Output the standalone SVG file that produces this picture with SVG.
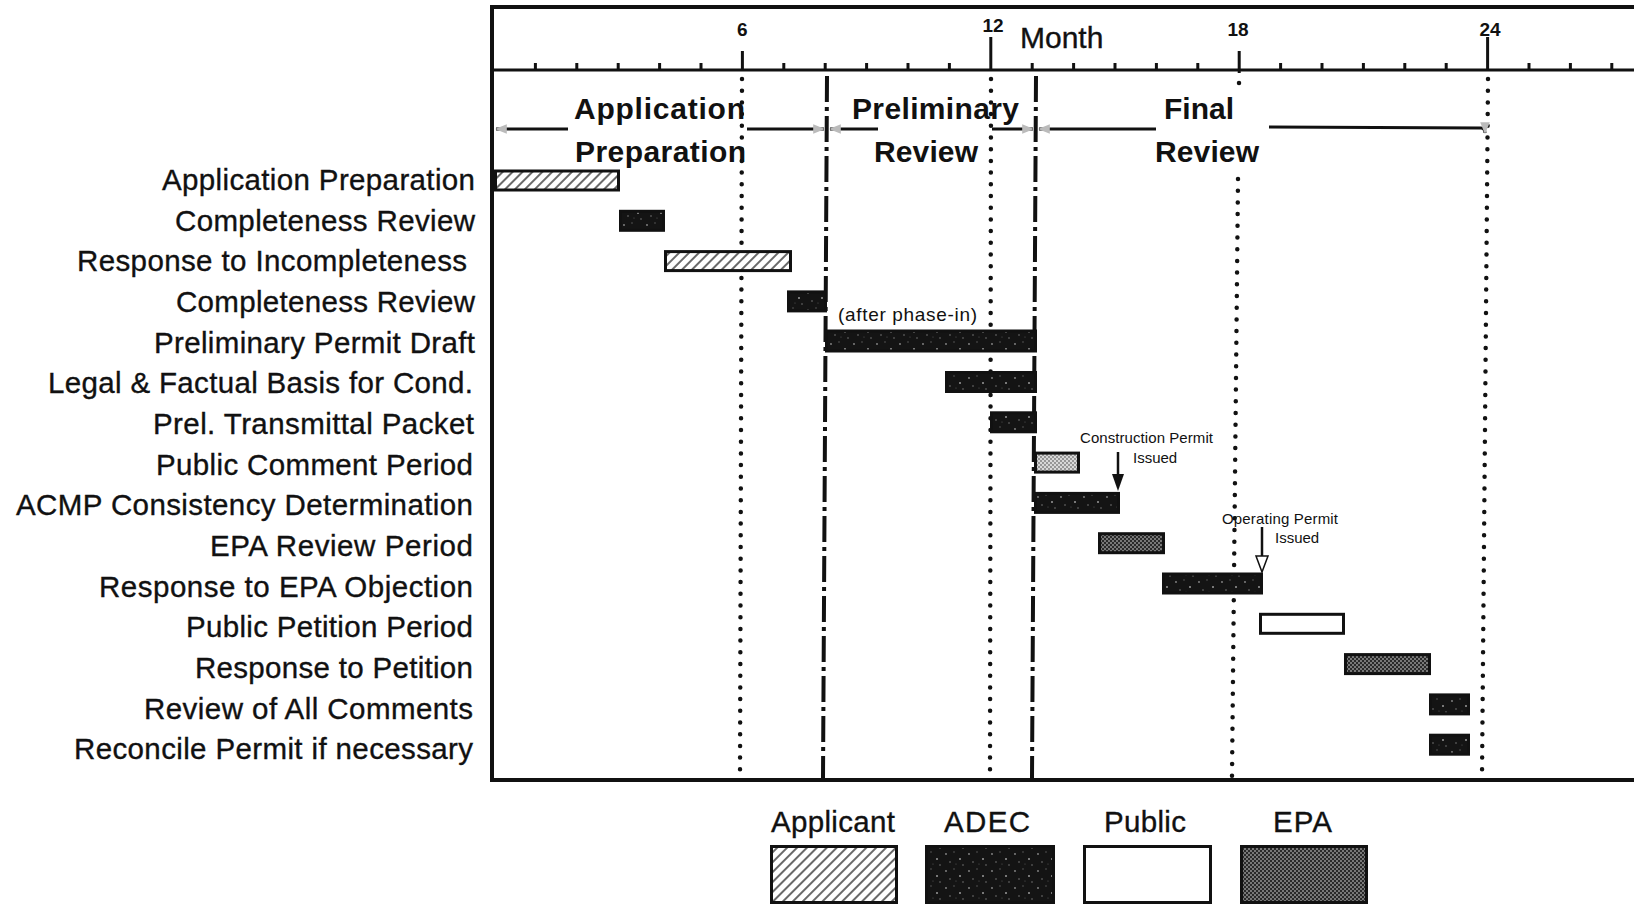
<svg xmlns="http://www.w3.org/2000/svg" width="1634" height="906" viewBox="0 0 1634 906">
<defs>
<style>
.lbl{font-family:"Liberation Sans",Arial,Helvetica,sans-serif;font-size:29.5px;fill:#111;stroke:#111;stroke-width:0.35}
.hdr{font-family:"Liberation Sans",Arial,Helvetica,sans-serif;font-size:30px;font-weight:bold;fill:#111}
.num{font-family:"Liberation Sans",Arial,Helvetica,sans-serif;font-size:19px;font-weight:bold;fill:#111}
.note{font-family:"Liberation Sans",Arial,Helvetica,sans-serif;font-size:15px;fill:#111}
.frame{stroke:#111;fill:none}
.tick{stroke:#111;stroke-width:3}
.dot{stroke:#111;stroke-width:4.5;stroke-linecap:round;stroke-dasharray:0 11.7;fill:none}
.dashdot{stroke:#111;stroke-width:4;stroke-dasharray:26 5 4 5;fill:none}
.bar{stroke:#111;stroke-width:3}
.arr{stroke:#111;stroke-width:3;fill:none}
</style>
<pattern id="hatch" patternUnits="userSpaceOnUse" width="7" height="7" patternTransform="rotate(45)">
<rect width="7" height="7" fill="#fff"/>
<line x1="1" y1="0" x2="1" y2="7" stroke="#444" stroke-width="1.6"/>
</pattern>
<pattern id="adec" patternUnits="userSpaceOnUse" width="23" height="17">
<rect width="23" height="17" fill="#141414"/>
<circle cx="3" cy="4" r="0.9" fill="#8a8a8a"/>
<circle cx="11" cy="2" r="0.7" fill="#666"/>
<circle cx="17" cy="9" r="1" fill="#999"/>
<circle cx="7" cy="12" r="0.8" fill="#777"/>
<circle cx="20" cy="15" r="0.7" fill="#888"/>
<circle cx="13" cy="14" r="0.6" fill="#555"/>
</pattern>
<pattern id="epa" patternUnits="userSpaceOnUse" width="4" height="4">
<rect width="4" height="4" fill="#2a2a2a"/>
<circle cx="1" cy="1" r="0.95" fill="#9a9a9a"/>
<circle cx="3" cy="3" r="0.95" fill="#9a9a9a"/>
</pattern>
<pattern id="epaLight" patternUnits="userSpaceOnUse" width="4" height="4">
<rect width="4" height="4" fill="#d8d8d8"/>
<circle cx="1" cy="1" r="0.9" fill="#777"/>
<circle cx="3" cy="3" r="0.9" fill="#777"/>
</pattern>
<marker id="ah" viewBox="0 0 10 10" refX="9" refY="5" markerWidth="4" markerHeight="4" orient="auto-start-reverse">
<path d="M0,1 L10,5 L0,9 z" fill="#bbb"/>
</marker>
</defs>
<rect width="1634" height="906" fill="#fff"/>

<g id="chart-frame">
<line class="frame" x1="490" y1="7" x2="1634" y2="7" stroke-width="4"/>
<line class="frame" x1="492" y1="70" x2="1634" y2="70" stroke-width="3"/>
<line class="frame" x1="492" y1="5" x2="492" y2="782" stroke-width="4"/>
<line class="frame" x1="490" y1="780" x2="1634" y2="780" stroke-width="4"/>
</g>

<g id="month-scale">
<g class="tick">
<line x1="535.4" y1="63" x2="535.4" y2="70"/>
<line x1="576.8" y1="63" x2="576.8" y2="70"/>
<line x1="618.2" y1="63" x2="618.2" y2="70"/>
<line x1="659.6" y1="63" x2="659.6" y2="70"/>
<line x1="701" y1="63" x2="701" y2="70"/>
<line x1="783.8" y1="63" x2="783.8" y2="70"/>
<line x1="825.2" y1="63" x2="825.2" y2="70"/>
<line x1="866.6" y1="63" x2="866.6" y2="70"/>
<line x1="908" y1="63" x2="908" y2="70"/>
<line x1="949.4" y1="63" x2="949.4" y2="70"/>
<line x1="1032.2" y1="63" x2="1032.2" y2="70"/>
<line x1="1073.6" y1="63" x2="1073.6" y2="70"/>
<line x1="1115" y1="63" x2="1115" y2="70"/>
<line x1="1156.4" y1="63" x2="1156.4" y2="70"/>
<line x1="1197.8" y1="63" x2="1197.8" y2="70"/>
<line x1="1280.6" y1="63" x2="1280.6" y2="70"/>
<line x1="1322" y1="63" x2="1322" y2="70"/>
<line x1="1363.4" y1="63" x2="1363.4" y2="70"/>
<line x1="1404.8" y1="63" x2="1404.8" y2="70"/>
<line x1="1446.2" y1="63" x2="1446.2" y2="70"/>
<line x1="1529" y1="63" x2="1529" y2="70"/>
<line x1="1570.4" y1="63" x2="1570.4" y2="70"/>
<line x1="1611.8" y1="63" x2="1611.8" y2="70"/>
<line x1="742.4" y1="51" x2="742.4" y2="70"/>
<line x1="990.8" y1="37" x2="990.8" y2="70"/>
<line x1="1239.2" y1="51" x2="1239.2" y2="73"/>
<line x1="1487.6" y1="37" x2="1487.6" y2="70"/>
</g>
<text class="num" x="742.4" y="36" text-anchor="middle">6</text>
<text class="num" x="993" y="32" text-anchor="middle">12</text>
<text class="num" x="1238" y="36" text-anchor="middle">18</text>
<text class="num" x="1490" y="36" text-anchor="middle">24</text>
<text class="lbl" x="1020" y="48" style="font-size:30px">Month</text>
</g>

<g id="dividers">
<line class="dot" x1="742" y1="79" x2="740" y2="776"/>
<line class="dot" x1="991" y1="79" x2="990" y2="776"/>
<line class="dot" x1="1239" y1="83" x2="1239" y2="84"/>
<line class="dot" x1="1238" y1="179" x2="1232" y2="776"/>
<line class="dot" x1="1488" y1="79" x2="1482" y2="776"/>
<line class="dashdot" x1="827" y1="76" x2="823" y2="778"/>
<line class="dashdot" x1="1036" y1="76" x2="1032" y2="778"/>
</g>

<g id="phase-application-preparation">
<text class="hdr" x="574" y="119" textLength="171" lengthAdjust="spacing">Application</text>
<text class="hdr" x="575" y="162" textLength="171" lengthAdjust="spacing">Preparation</text>
</g>
<g id="phase-preliminary-review">
<text class="hdr" x="852" y="119" textLength="167" lengthAdjust="spacing">Preliminary</text>
<text class="hdr" x="874" y="162" textLength="104" lengthAdjust="spacing">Review</text>
</g>
<g id="phase-final-review">
<text class="hdr" x="1164" y="119" textLength="70" lengthAdjust="spacing">Final</text>
<text class="hdr" x="1155" y="162" textLength="104" lengthAdjust="spacing">Review</text>
</g>

<g id="row-01">
<text class="lbl" x="162" y="190" textLength="313" lengthAdjust="spacing">Application Preparation</text>
<rect class="bar" x="495.5" y="171" width="123" height="19" fill="url(#hatch)"/>
</g>
<g id="row-02">
<text class="lbl" x="175" y="230.7" textLength="300" lengthAdjust="spacing">Completeness Review</text>
<rect class="bar" x="620.5" y="211.3" width="43" height="19" fill="url(#adec)"/>
</g>
<g id="row-03">
<text class="lbl" x="77" y="271.3" textLength="390" lengthAdjust="spacing">Response to Incompleteness</text>
<rect class="bar" x="665.5" y="251.6" width="125" height="19" fill="url(#hatch)"/>
</g>
<g id="row-04">
<text class="lbl" x="176" y="312" textLength="299" lengthAdjust="spacing">Completeness Review</text>
<rect class="bar" x="788.5" y="291.9" width="37" height="19" fill="url(#adec)"/>
</g>
<g id="row-05">
<text class="lbl" x="154" y="352.6" textLength="321" lengthAdjust="spacing">Preliminary Permit Draft</text>
<rect class="bar" x="826.5" y="331" width="209" height="20" fill="url(#adec)"/>
<text class="note" x="838" y="321" style="font-size:19px" textLength="139" lengthAdjust="spacing">(after phase-in)</text>
</g>
<g id="row-06">
<text class="lbl" x="48" y="393.3" textLength="425" lengthAdjust="spacing">Legal &amp; Factual Basis for Cond.</text>
<rect class="bar" x="946.5" y="372.5" width="89" height="19" fill="url(#adec)"/>
</g>
<g id="row-07">
<text class="lbl" x="153" y="433.9" textLength="321" lengthAdjust="spacing">Prel. Transmittal Packet</text>
<rect class="bar" x="991.5" y="412.8" width="44" height="19" fill="url(#adec)"/>
</g>
<g id="row-08">
<text class="lbl" x="156" y="474.6" textLength="317" lengthAdjust="spacing">Public Comment Period</text>
<rect class="bar" x="1035.5" y="453.1" width="43" height="19" fill="url(#epaLight)"/>
</g>
<g id="row-09">
<text class="lbl" x="16" y="515.2" textLength="457" lengthAdjust="spacing">ACMP Consistency Determination</text>
<rect class="bar" x="1035.5" y="493.4" width="83" height="19" fill="url(#adec)"/>
</g>
<g id="row-10">
<text class="lbl" x="210" y="555.9" textLength="263" lengthAdjust="spacing">EPA Review Period</text>
<rect class="bar" x="1099.5" y="533.7" width="64" height="19" fill="url(#epa)"/>
</g>
<g id="row-11">
<text class="lbl" x="99" y="596.5" textLength="374" lengthAdjust="spacing">Response to EPA Objection</text>
<rect class="bar" x="1163.5" y="574" width="98" height="19" fill="url(#adec)"/>
</g>
<g id="row-12">
<text class="lbl" x="186" y="637.2" textLength="287" lengthAdjust="spacing">Public Petition Period</text>
<rect class="bar" x="1260.5" y="614.3" width="83" height="19" fill="#fff"/>
</g>
<g id="row-13">
<text class="lbl" x="195" y="677.8" textLength="278" lengthAdjust="spacing">Response to Petition</text>
<rect class="bar" x="1345.5" y="654.6" width="84" height="19" fill="url(#epa)"/>
</g>
<g id="row-14">
<text class="lbl" x="144" y="718.5" textLength="329" lengthAdjust="spacing">Review of All Comments</text>
<rect class="bar" x="1430.5" y="694.9" width="38" height="19" fill="url(#adec)"/>
</g>
<g id="row-15">
<text class="lbl" x="74" y="759.1" textLength="399" lengthAdjust="spacing">Reconcile Permit if necessary</text>
<rect class="bar" x="1430.5" y="735.2" width="38" height="19" fill="url(#adec)"/>
</g>

<g id="construction-permit-note">
<text class="note" x="1080" y="443" textLength="133" lengthAdjust="spacing">Construction Permit</text>
<text class="note" x="1133" y="463">Issued</text>
</g>
<g id="operating-permit-note">
<text class="note" x="1222" y="524" textLength="116" lengthAdjust="spacing">Operating Permit</text>
<text class="note" x="1275" y="543">Issued</text>
</g>

<g id="connectors">
<line class="arr" x1="496" y1="129" x2="568" y2="129" marker-start="url(#ah)"/>
<line class="arr" x1="747" y1="129" x2="824" y2="129" marker-end="url(#ah)"/>
<line class="arr" x1="830" y1="129" x2="878" y2="129" marker-start="url(#ah)"/>
<line class="arr" x1="992" y1="129" x2="1033" y2="129" marker-end="url(#ah)"/>
<line class="arr" x1="1039" y1="129" x2="1156" y2="129" marker-start="url(#ah)"/>
<path class="arr" d="M1269,127 L1481,128 Q1485,128 1485,133" marker-end="url(#ah)"/>
<line x1="1118" y1="452" x2="1118" y2="476" stroke="#111" stroke-width="2.5"/>
<path d="M1112,474 L1124,474 L1118,491 z" fill="#111"/>
<line x1="1262" y1="527" x2="1262" y2="558" stroke="#111" stroke-width="2.5"/>
<path d="M1256,556 L1268,556 L1262,572 z" fill="#fff" stroke="#111" stroke-width="1.5"/>
</g>

<g id="legend">
<g id="legend-applicant">
<text class="lbl" x="771" y="832" textLength="124" lengthAdjust="spacing">Applicant</text>
<rect class="bar" x="771.5" y="846.5" width="125" height="56" fill="url(#hatch)"/>
</g>
<g id="legend-adec">
<text class="lbl" x="944" y="832" textLength="86" lengthAdjust="spacing">ADEC</text>
<rect class="bar" x="926.5" y="846.5" width="127" height="56" fill="url(#adec)"/>
</g>
<g id="legend-public">
<text class="lbl" x="1104" y="832" textLength="82" lengthAdjust="spacing">Public</text>
<rect class="bar" x="1084.5" y="846.5" width="126" height="56" fill="#fff"/>
</g>
<g id="legend-epa">
<text class="lbl" x="1273" y="832" textLength="59" lengthAdjust="spacing">EPA</text>
<rect class="bar" x="1241.5" y="846.5" width="125" height="56" fill="url(#epa)"/>
</g>
</g>
</svg>
